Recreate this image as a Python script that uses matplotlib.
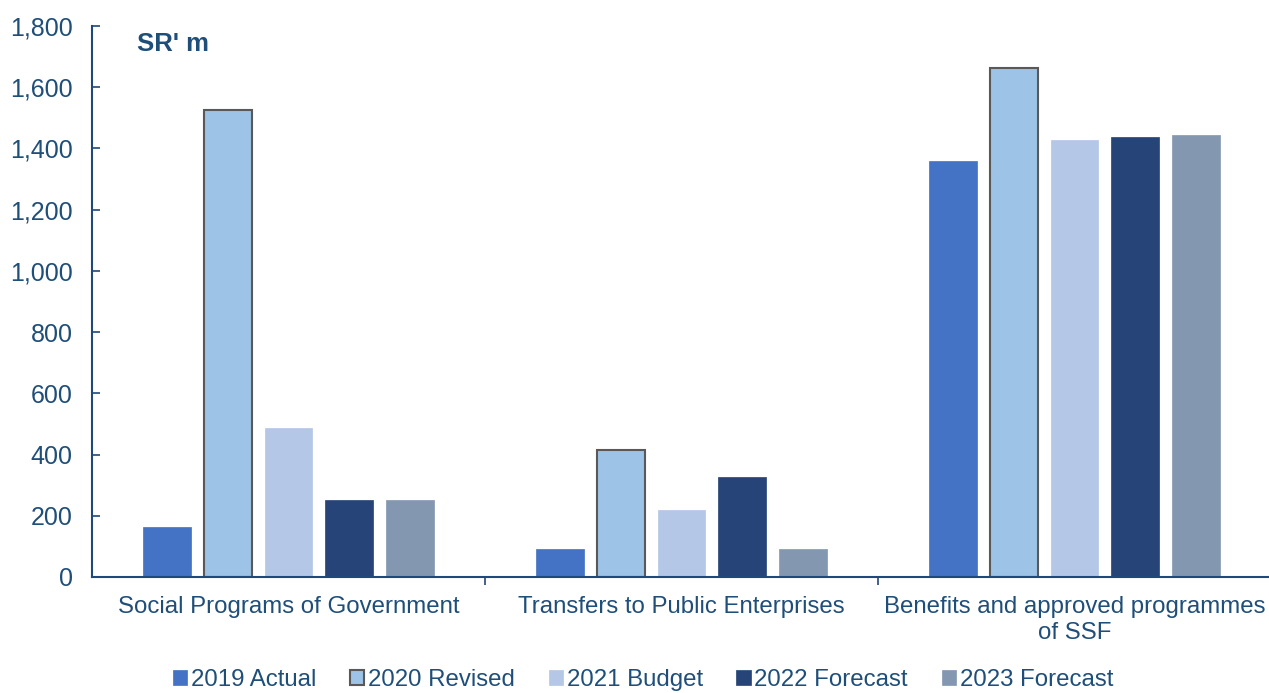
import numpy as np
import matplotlib.pyplot as plt

categories = ['Social Programs of Government', 'Transfers to Public Enterprises',
              'Benefits and approved programmes\nof SSF']
series = ['2019 Actual', '2020 Revised', '2021 Budget', '2022 Forecast', '2023 Forecast']
v2019 = [163, 91, 1359]
v2020 = [1526, 415, 1663]
v2021 = [487, 219, 1428]
v2022 = [252, 327, 1437]
v2023 = [252, 91, 1444]
yticks = [0, 200, 400, 600, 800, 1000, 1200, 1400, 1600, 1800]

colors = ['#4472C4', '#9DC3E6', '#B4C7E7', '#264478', '#8497B0']
edges = ['#4472C4', '#595959', '#B4C7E7', '#264478', '#8497B0']
txt = '#1F4E79'
axc = '#1F497D'

plt.rcParams['font.family'] = ['Liberation Sans', 'DejaVu Sans']

fig = plt.figure(figsize=(12.69, 6.93), dpi=100)
ax = fig.add_axes([92 / 1269, 1 - 577 / 693, (1271 - 92) / 1269, (577 - 26) / 693])

x = np.arange(len(categories))
width = 0.122
step = 0.154
data = [v2019, v2020, v2021, v2022, v2023]
for i, (vals, name) in enumerate(zip(data, series)):
    lw = 1.5 if i == 1 else 0.5
    ax.bar(x + (i - 2) * step, vals, width, color=colors[i], edgecolor=edges[i],
           linewidth=lw, label=name)

ax.set_xlim(-0.5, 2.5)
ax.set_ylim(0, 1800)
ax.set_yticks(yticks)
ax.set_yticklabels([f'{t:,}' for t in yticks], color=txt, fontsize=18)
ax.tick_params(axis='y', direction='in', length=6, color=axc, width=1.2, pad=14)

ax.set_xticks([0.5, 1.5], minor=False)
ax.set_xticklabels([])
ax.tick_params(axis='x', direction='out', length=6, color=axc, width=1.2)
ax.set_xticks(x, minor=True)
ax.set_xticklabels(categories, minor=True, color=txt, fontsize=17.3, linespacing=1.2)
ax.tick_params(axis='x', which='minor', length=0, pad=14)

for s in ['top', 'right']:
    ax.spines[s].set_visible(False)
ax.spines['left'].set_color(axc)
ax.spines['bottom'].set_color(axc)
ax.spines['left'].set_linewidth(1.5)
ax.spines['bottom'].set_linewidth(1.5)

ax.text(0.038, 0.99, "SR' m", transform=ax.transAxes, fontsize=18.5, fontweight='bold',
        color=txt, va='top')

fig.legend(loc='center', bbox_to_anchor=(643 / 1269, 1 - 680 / 693), ncol=5, frameon=False,
           fontsize=17.3, handlelength=0.6, handleheight=0.6, handletextpad=0.15,
           columnspacing=1.4, labelcolor=txt)

fig.savefig('out.png', dpi=100)
